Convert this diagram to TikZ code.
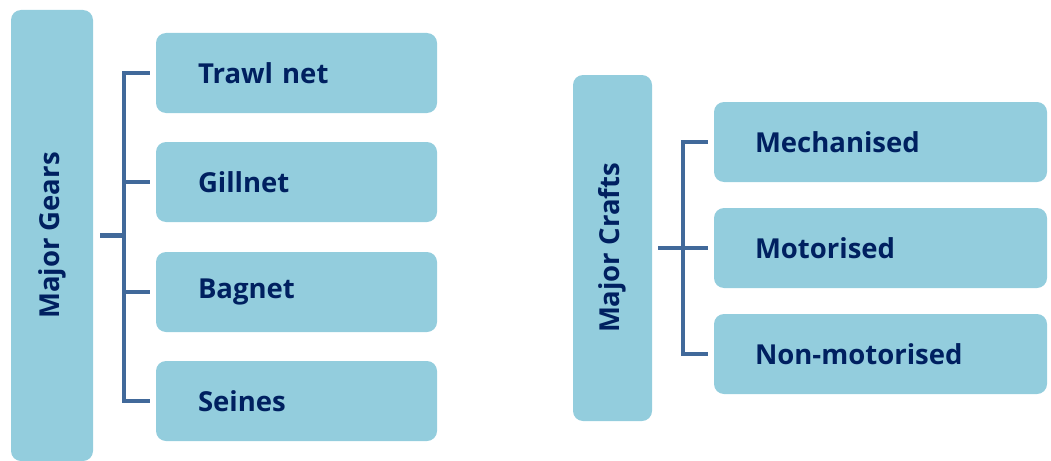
\documentclass[tikz,border=0pt]{standalone}
\usepackage{fontspec}
\setmainfont{Open Sans}
\usepackage{xcolor}
\usetikzlibrary{positioning}
\definecolor{boxblue}{HTML}{93CDDD}
\definecolor{linkblue}{HTML}{41699A}
\definecolor{navy}{HTML}{002060}

\begin{document}
\begin{tikzpicture}[x=1pt,y=-1pt,
  label font/.style={font=\bfseries\fontsize{27.5}{32}\selectfont,text=navy},
  head/.style={draw=none,fill=boxblue,rectangle,rounded corners=10pt,
               label font,inner sep=0pt},
  item/.style={draw=none,fill=boxblue,rectangle,rounded corners=10pt,
               label font,align=left,minimum height=80pt,inner ysep=0pt},
  gearitem/.style={item,inner xsep=42pt,text width=197pt},
  craftitem/.style={item,inner xsep=41pt,text width=251pt},
  bracket/.style={draw=linkblue,line width=4.5pt}
]
\useasboundingbox (0,0) rectangle (1051,460);
% Gears
\node[head,minimum width=82pt,minimum height=451pt] (gears) at (52,235.5) {};
\node[label font,rotate=90] (gearstxt) at (gears.center) {Major Gears};
\node[gearitem] (trawl)  at (296.5,73)  {Trawl net};
\node[gearitem] (gill)   at (296.5,182) {Gillnet};
\node[gearitem] (bag)    at (296.5,292) {Bagnet};
\node[gearitem] (seines) at (296.5,401) {Seines};
% Crafts
\node[head,minimum width=79pt,minimum height=346pt] (crafts) at (612.5,248) {};
\node[label font,rotate=90] (craftstxt) at (crafts.center) {Major Crafts};
\node[craftitem] (mech)  at (880.5,142) {Mechanised};
\node[craftitem] (motor) at (880.5,248) {Motorised};
\node[craftitem] (nonmo) at (880.5,354) {Non-motorised};
% Brackets: gears
\coordinate (gspine) at (124,235.5);
\draw[bracket] ([xshift=7pt]gears.east) -- (gspine);
\draw[bracket] ([xshift=-6pt]trawl.west) -| (gspine) |- ([xshift=-6pt]seines.west);
\draw[bracket] (gspine |- gill.west) -- ([xshift=-6pt]gill.west);
\draw[bracket] (gspine |- bag.west) -- ([xshift=-6pt]bag.west);
% Brackets: crafts
\coordinate (cspine) at (683,248);
\draw[bracket] ([xshift=6pt]crafts.east) -- (cspine);
\draw[bracket] ([xshift=-6pt]mech.west) -| (cspine) |- ([xshift=-6pt]nonmo.west);
\draw[bracket] (cspine) -- ([xshift=-6pt]motor.west);
\end{tikzpicture}
\end{document}
